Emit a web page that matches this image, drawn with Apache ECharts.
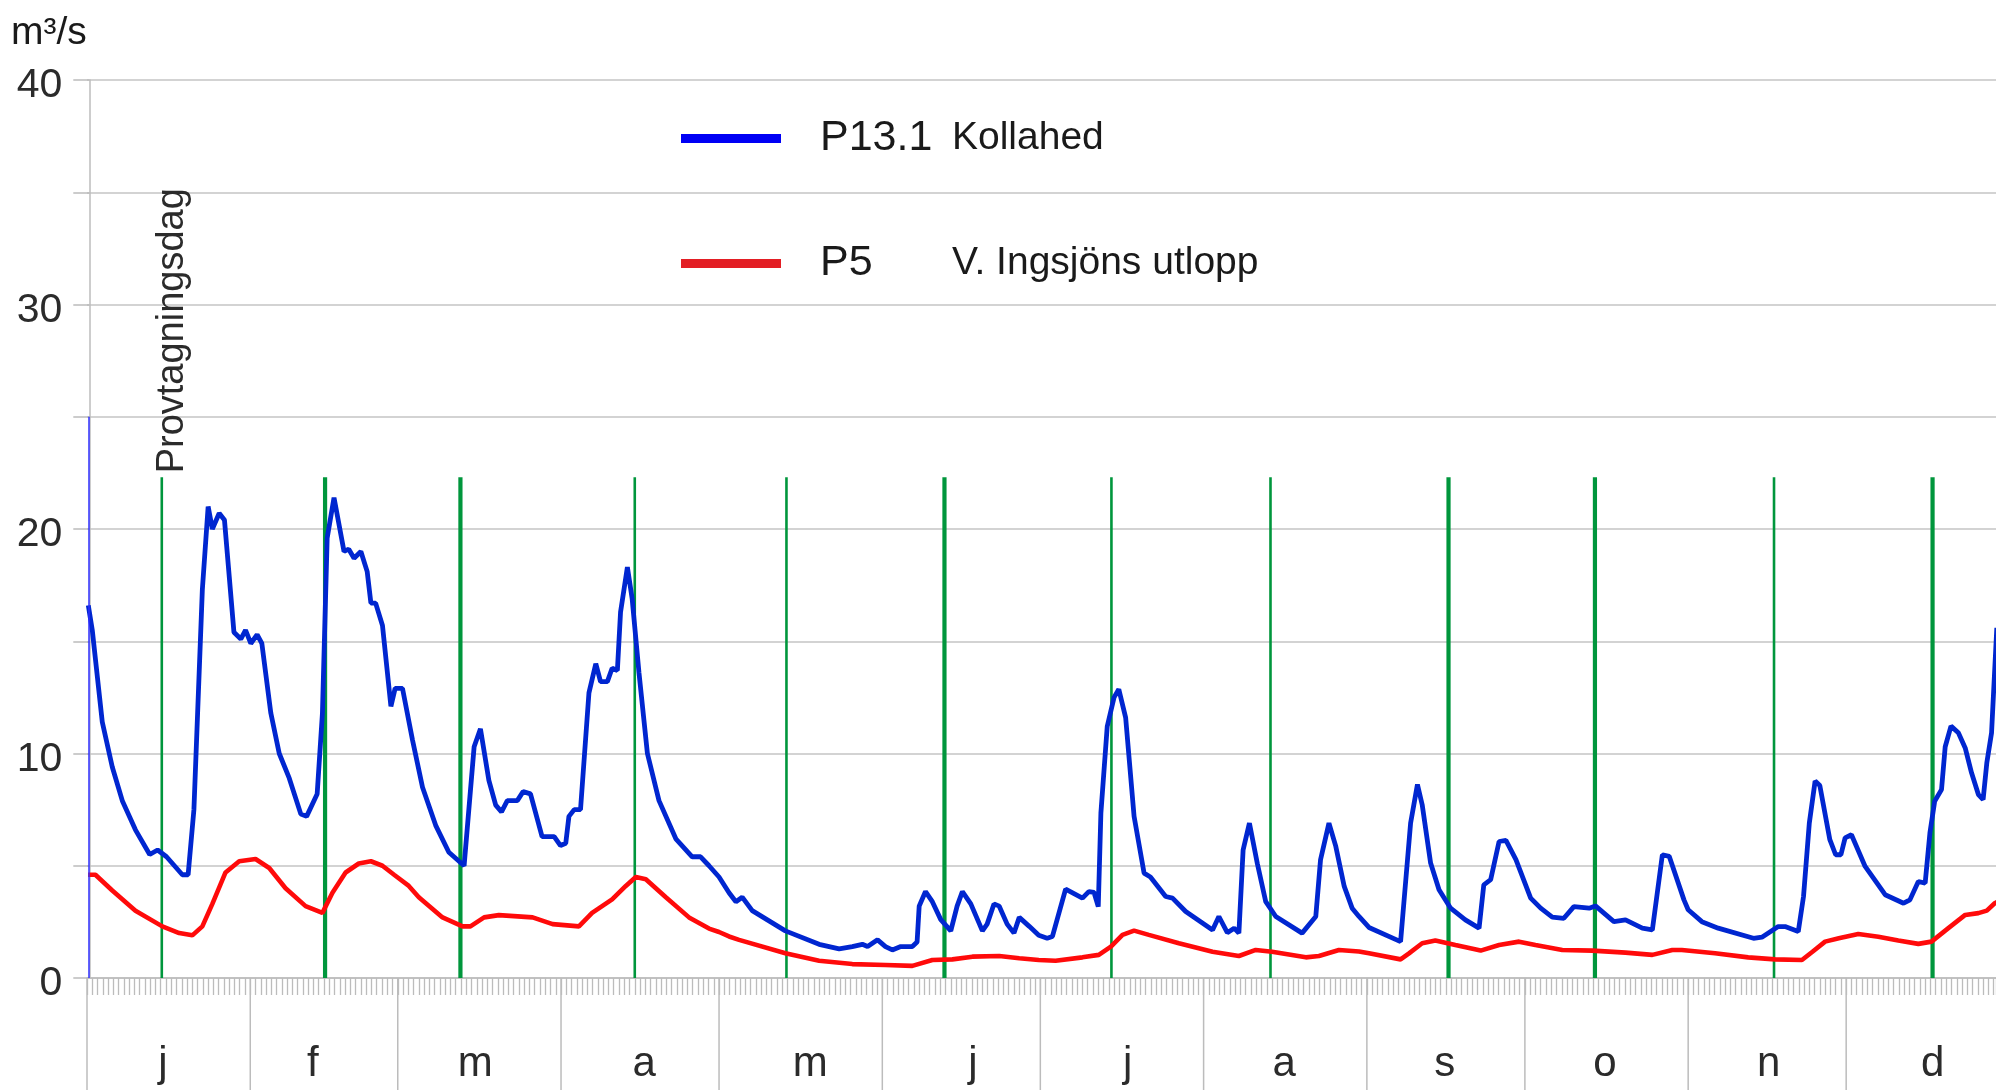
<!DOCTYPE html>
<html>
<head>
<meta charset="utf-8">
<script src="https://cdn.jsdelivr.net/npm/echarts@6/dist/echarts.min.js"></script>
<style>
html,body{margin:0;padding:0;background:#fff;}
#chart{width:1996px;height:1090px;}
</style>
</head>
<body>
<div id="chart"></div>
<script>
// ---------- data ----------
const months = ['j','f','m','a','m','j','j','a','s','o','n','d'];
const monthDays = [31,28,31,30,31,30,31,31,30,31,30,31];
// where each month letter sits (day of year)
const monthLabelDays = [14.4, 42.9, 73.7, 105.8, 137.3, 168.2, 197.6, 227.3, 257.8, 288.2, 319.3, 350.4];
const yLabelValues = [0, 10, 20, 30, 40];
const unitLabel = 'm³/s';
const seriesCodes = ['P13.1', 'P5'];
const stationNames = ['Kollahed', 'V. Ingsjöns utlopp'];
const samplingLabel = 'Provtagningsdag';

// sampling days (day of year), line top value, thick flag
const samplingDays = [14.2, 45.2, 70.9, 104.0, 132.8, 162.8, 194.5, 224.7, 258.5, 286.3, 320.3, 350.4];
const samplingThick = [0, 1, 1, 0, 0, 1, 0, 0, 1, 1, 0, 1];
const samplingTop = 22.3;
const edgeMarkTop = 25;

// P13.1 Kollahed  [day, m3/s]
const p13 = [
[0.25,16.6],[1,15.5],[2.9,11.4],[4.8,9.4],[6.7,7.9],[9.2,6.6],[11.9,5.5],[13.4,5.7],[15.1,5.4],[18.1,4.6],
[19.2,4.6],[20.3,7.5],[21.9,17.3],[23.0,21.0],[23.8,20.0],[25.1,20.7],[26.1,20.4],[27.9,15.4],[29.2,15.1],[30.1,15.5],
[31.1,14.9],[32.3,15.3],[33.2,14.9],[34.9,11.8],[36.5,10.0],[38.4,8.9],[40.6,7.3],[41.7,7.2],[43.7,8.2],[44.7,11.8],
[45.6,19.6],[46.9,21.4],[48.8,19.0],[49.7,19.1],[50.7,18.7],[52.0,19.0],[53.2,18.1],[53.9,16.7],[54.8,16.7],[56.1,15.7],
[57.7,12.1],[58.5,12.9],[59.9,12.9],[61.8,10.6],[63.7,8.5],[66.2,6.8],[68.7,5.6],[71.6,5.0],[73.5,10.3],[74.7,11.1],
[76.3,8.8],[77.6,7.7],[78.7,7.4],[79.8,7.9],[81.7,7.9],[82.8,8.3],[84.2,8.2],[86.4,6.3],[88.7,6.3],[89.9,5.9],
[90.9,6.0],[91.5,7.2],[92.5,7.5],[93.7,7.5],[95.3,12.7],[96.6,14.0],[97.5,13.2],[98.8,13.2],[99.7,13.8],[100.7,13.7],
[101.3,16.3],[102.6,18.3],[103.5,16.9],[104.8,13.6],[106.4,10.0],[108.6,7.9],[111.8,6.2],[114.9,5.4],[116.5,5.4],[118.1,5.0],
[120.0,4.5],[121.9,3.8],[123.2,3.4],[124.4,3.6],[126.3,3.0],[132.6,2.1],[139.0,1.5],[142.8,1.3],[145.3,1.4],[147.2,1.5],
[148.2,1.4],[150.1,1.7],[151.6,1.4],[152.9,1.25],[154.5,1.4],[156.7,1.4],[157.6,1.6],[158.0,3.2],[159.2,3.85],[160.5,3.4],
[162.1,2.6],[164.0,2.1],[165.2,3.2],[166.2,3.85],[167.8,3.3],[170.0,2.1],[170.9,2.4],[172.2,3.3],[173.2,3.2],[174.7,2.4],
[176.0,2.0],[177.0,2.7],[178.9,2.3],[180.7,1.9],[182.3,1.77],[183.3,1.85],[185.8,3.96],[189.0,3.56],[190.2,3.85],[191.2,3.81],
[192.0,3.18],[192.5,7.35],[193.7,11.2],[195.0,12.5],[195.9,12.86],[197.2,11.6],[198.8,7.2],[200.7,4.67],[201.9,4.5],[204.8,3.63],
[206.1,3.56],[208.6,2.96],[213.7,2.14],[214.9,2.74],[216.5,2.02],[217.8,2.22],[218.7,2.0],[219.5,5.7],[220.7,6.9],[222.2,5.1],
[223.8,3.4],[225.7,2.74],[230.7,2.0],[233.3,2.74],[234.2,5.27],[235.8,6.9],[237.1,5.86],[238.7,4.08],[240.2,3.11],[241.5,2.74],
[243.4,2.25],[249.4,1.62],[251.3,6.9],[252.6,8.62],[253.5,7.72],[255.1,5.12],[256.7,3.93],[258.9,3.11],[261.7,2.59],[264.3,2.22],
[265.2,4.15],[266.5,4.38],[268.1,6.08],[269.4,6.13],[271.3,5.27],[274.1,3.56],[276.0,3.11],[278.2,2.71],[280.4,2.66],[282.3,3.18],
[285.2,3.11],[286.4,3.21],[289.9,2.51],[292.1,2.59],[295.3,2.22],[297.2,2.14],[299.1,5.49],[300.4,5.42],[303.2,3.48],[304.0,3.04],
[306.6,2.51],[309.7,2.22],[316.4,1.77],[318.0,1.82],[321.1,2.29],[322.4,2.29],[324.9,2.07],[325.9,3.63],[327.0,6.9],[328.1,8.77],
[329.0,8.57],[330.9,6.16],[332.0,5.49],[333.0,5.49],[333.8,6.24],[335.0,6.38],[337.6,4.97],[341.4,3.71],[344.9,3.33],[346.1,3.48],
[347.7,4.3],[349.0,4.23],[349.9,6.46],[350.8,7.87],[352.1,8.39],[352.8,10.3],[353.9,11.22],[355.3,10.92],[356.6,10.25],[357.8,9.14],
[359.1,8.17],[360.0,7.95],[360.7,9.58],[361.6,10.92],[362.6,15.6]
];

// P5 V. Ingsjöns utlopp  [day, m3/s]
const p5 = [
[0.2,4.6],[1.6,4.6],[4.8,3.9],[9.2,3.0],[14.3,2.3],[17.5,2.0],[20.0,1.9],[21.9,2.3],[23.8,3.3],[26.3,4.7],
[28.9,5.2],[32.0,5.3],[34.6,4.9],[37.7,4.0],[41.5,3.2],[44.7,2.9],[46.6,3.8],[49.1,4.7],[51.6,5.1],[53.9,5.2],
[56.1,5.0],[58.3,4.6],[61.1,4.1],[63.0,3.6],[67.5,2.7],[71.3,2.3],[72.8,2.3],[75.4,2.7],[78.2,2.8],[84.6,2.7],
[88.4,2.4],[93.4,2.3],[95.9,2.9],[99.7,3.5],[102.3,4.1],[104.2,4.5],[106.1,4.4],[109.9,3.6],[114.3,2.7],[118.1,2.2],
[120.0,2.05],[121.9,1.85],[123.8,1.7],[132.6,1.1],[139.0,0.77],[145.3,0.62],[151.6,0.58],[156.7,0.54],[160.5,0.8],[164.3,0.83],
[168.1,0.95],[173.2,0.98],[177.0,0.88],[180.7,0.8],[183.9,0.77],[189.0,0.92],[192.1,1.03],[194.4,1.4],[196.6,1.92],[198.8,2.11],
[201.6,1.92],[207.3,1.55],[213.7,1.17],[218.7,0.98],[221.9,1.25],[225.0,1.17],[231.4,0.92],[233.9,0.98],[237.7,1.25],[241.5,1.18],
[243.4,1.1],[249.4,0.83],[251.0,1.1],[253.5,1.55],[256.0,1.67],[259.8,1.47],[264.6,1.22],[268.1,1.47],[271.9,1.62],[275.0,1.47],
[280.1,1.25],[285.8,1.22],[292.1,1.13],[297.2,1.03],[301.0,1.25],[302.8,1.25],[309.1,1.1],[315.4,0.92],[320.5,0.83],[325.6,0.8],
[327.6,1.17],[330.0,1.62],[332.6,1.77],[336.3,1.96],[340.1,1.84],[343.9,1.67],[347.7,1.52],[350.2,1.62],[353.4,2.22],[356.6,2.81],
[359.1,2.89],[360.7,3.0],[362.2,3.33],[363.5,3.5]
];

// ---------- derived tables ----------
const monthTable = [];
{ let acc = 0; monthDays.forEach((d, i) => { monthTable.push([acc, acc + d, i, monthLabelDays[i]]); acc += d; }); }
const samplingTable = samplingDays.map((d, i) => [d, samplingTop, samplingThick[i]]);

const FONT = 'Liberation Sans';
const W = 1996, H = 1090;
const GRID_LEFT = 87, DAY_PX = 5.267;
// the picture is cropped at the right edge a few days before year end
const VISIBLE_DAYS = (W - GRID_LEFT) / DAY_PX;

const chart = echarts.init(document.getElementById('chart'), null, {renderer: 'canvas'});

chart.setOption({
  backgroundColor: '#ffffff',
  animation: false,
  textStyle: {fontFamily: FONT},
  title: {
    text: unitLabel,
    left: 11, top: 14, padding: 0,
    textStyle: {fontSize: 39, fontWeight: 'normal', fontFamily: FONT, color: '#1a1a1a'}
  },
  grid: [
    {left: GRID_LEFT, top: 80, right: 0, height: 898},
    {left: GRID_LEFT, top: 978, right: 0, height: 112}
  ],
  legend: {
    orient: 'vertical',
    left: 676, top: 112,
    itemWidth: 100, itemHeight: 9, itemGap: 82,
    icon: 'rect',
    selectedMode: false,
    data: [
      {name: seriesCodes[0], itemStyle: {color: '#0000f5'}},
      {name: seriesCodes[1], itemStyle: {color: '#e31e24'}}
    ],
    formatter: function (n) {
      const i = seriesCodes.indexOf(n);
      return '{s|}{a|' + n + '}{b|' + stationNames[i] + '}';
    },
    textStyle: {
      color: '#1a1a1a',
      fontFamily: FONT,
      rich: {
        s: {width: 34, lineHeight: 44},
        a: {width: 132, fontSize: 43, lineHeight: 44, fontFamily: FONT, color: '#1a1a1a'},
        b: {fontSize: 39, lineHeight: 44, fontFamily: FONT, color: '#1a1a1a'}
      }
    }
  },
  xAxis: [
    {
      type: 'value', gridIndex: 0, min: 0, max: VISIBLE_DAYS, interval: 1,
      axisLine: {show: true, onZero: false, lineStyle: {color: '#bcbcbc', width: 1.5}},
      axisTick: {show: true, length: 17, lineStyle: {color: '#bcbcbc', width: 1.3}},
      axisLabel: {show: false},
      splitLine: {show: false}
    },
    {
      type: 'value', gridIndex: 1, min: 0, max: VISIBLE_DAYS, show: false
    }
  ],
  yAxis: [
    {
      type: 'value', gridIndex: 0, min: 0, max: 40, interval: 5,
      offset: -2.3,
      axisLine: {show: true, lineStyle: {color: '#bcbcbc', width: 1.5}},
      axisTick: {show: true, length: 16, lineStyle: {color: '#bcbcbc', width: 1.5}},
      axisLabel: {
        margin: 27, fontSize: 41, fontFamily: FONT, color: '#2b2b2b',
        verticalAlign: 'top', lineHeight: 12,
        formatter: function (v) { return yLabelValues.indexOf(v) >= 0 ? String(v) : ''; }
      },
      splitLine: {show: true, lineStyle: {color: '#c4c4c4', width: 1.5}}
    },
    {
      type: 'value', gridIndex: 1, min: 0, max: 1, show: false
    }
  ],
  series: [
    {
      name: 'sampling',
      type: 'custom',
      xAxisIndex: 0, yAxisIndex: 0,
      silent: true,
      z: 2,
      data: samplingTable,
      encode: {x: 0, y: 1},
      renderItem: function (params, api) {
        const d = api.value(0), top = api.value(1), thick = api.value(2);
        const p0 = api.coord([d, 0]), p1 = api.coord([d, top]);
        const children = [{
          type: 'line',
          shape: {x1: p0[0], y1: p0[1], x2: p1[0], y2: p1[1]},
          style: {stroke: '#00963c', lineWidth: thick ? 4.2 : 2.6}
        }];
        if (params.dataIndex === 0) {
          children.push({
            type: 'text',
            x: p1[0] + 11, y: p1[1] - 4,
            rotation: Math.PI / 2,
            style: {text: samplingLabel, fontSize: 38, fontFamily: FONT, fill: '#2b2b2b', align: 'left', verticalAlign: 'middle'}
          });
        }
        return {type: 'group', children: children};
      }
    },
    {
      name: seriesCodes[1],
      type: 'line',
      xAxisIndex: 0, yAxisIndex: 0,
      data: p5,
      showSymbol: false, symbol: 'none',
      z: 3,
      color: '#ff0a0a',
      lineStyle: {color: '#ff0a0a', width: 4.6}
    },
    {
      name: seriesCodes[0],
      type: 'line',
      xAxisIndex: 0, yAxisIndex: 0,
      data: p13,
      showSymbol: false, symbol: 'none',
      z: 4,
      color: '#0026d0',
      lineStyle: {color: '#0026d0', width: 4.8},
      markLine: {
        silent: true,
        symbol: 'none',
        animation: false,
        label: {show: false},
        lineStyle: {color: '#2e2eff', width: 1.5, type: 'solid'},
        data: [[{coord: [0.4, 0]}, {coord: [0.4, edgeMarkTop]}]]
      }
    },
    {
      name: 'months',
      type: 'custom',
      xAxisIndex: 1, yAxisIndex: 1,
      silent: true,
      clip: false,
      data: monthTable,
      encode: {x: [0, 1]},
      renderItem: function (params, api) {
        const s = api.value(0), i = api.value(2), at = api.value(3);
        const a = api.coord([s, 1]), b = api.coord([s, 0]);
        const m = api.coord([at, 0.225]);
        return {
          type: 'group',
          children: [
            {type: 'line', shape: {x1: a[0], y1: a[1], x2: b[0], y2: b[1]}, style: {stroke: '#bcbcbc', lineWidth: 1.5}},
            {type: 'text', x: m[0], y: m[1], style: {text: months[i], fontSize: 42, fontFamily: FONT, fill: '#2b2b2b', align: 'center', verticalAlign: 'middle'}}
          ]
        };
      }
    }
  ]
});
</script>
</body>
</html>
